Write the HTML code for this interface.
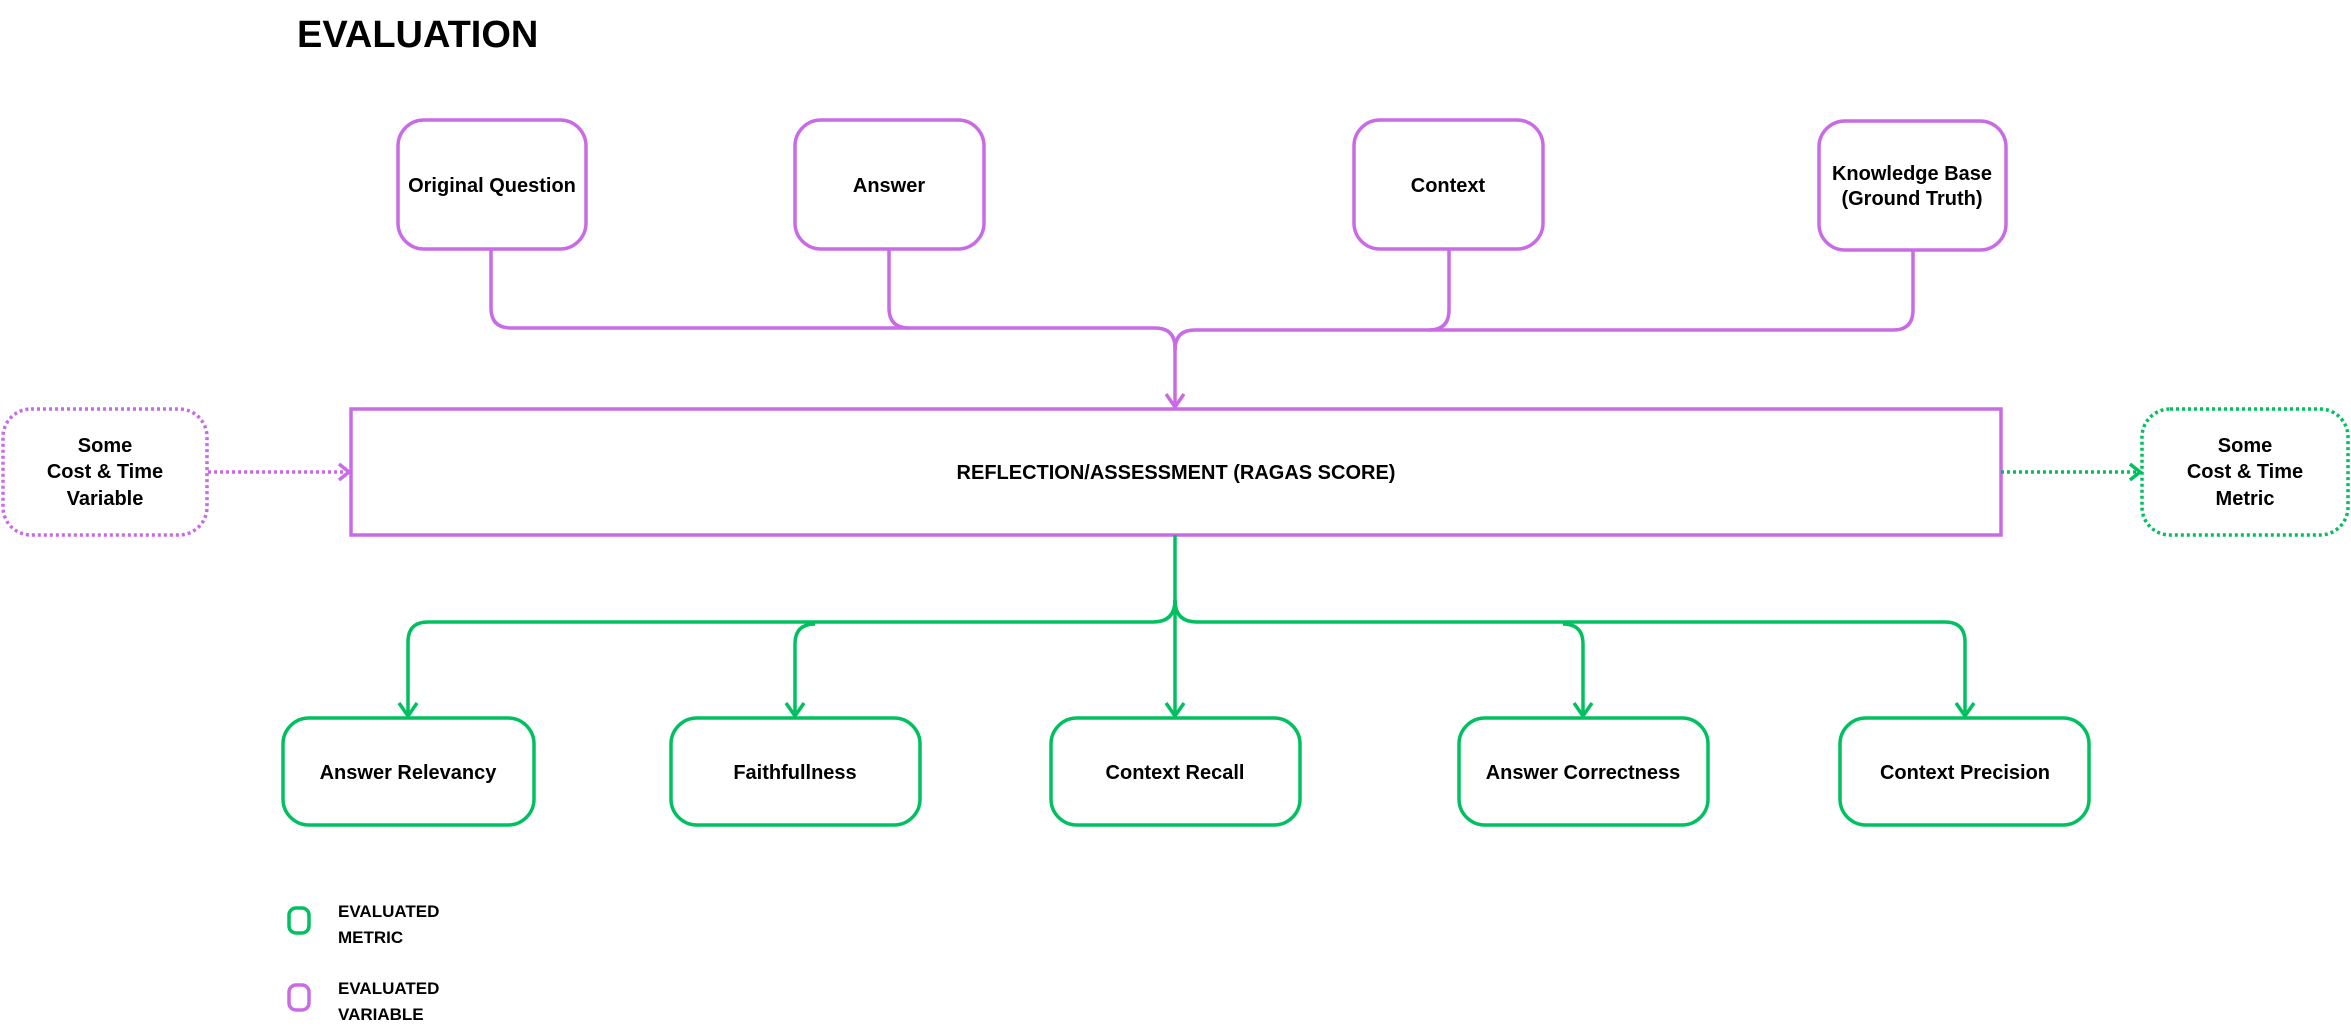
<!DOCTYPE html>
<html><head><meta charset="utf-8"><style>
html,body{margin:0;padding:0;background:#fff;}
svg{display:block;}
text{font-family:"Liberation Sans Narrow","Liberation Sans",sans-serif;font-weight:bold;fill:#000;}
</style></head><body>
<svg width="2351" height="1030" viewBox="0 0 2351 1030" xmlns="http://www.w3.org/2000/svg">
<text x="297" y="47" font-size="38" font-family="Liberation Sans" style="font-family:'Liberation Sans',sans-serif">EVALUATION</text>
<g fill="none" stroke="#c96be6" stroke-width="3.5">
<rect x="398" y="120" width="188" height="129" rx="26"/>
<rect x="795" y="120" width="189" height="129" rx="26"/>
<rect x="1354" y="120" width="189" height="129" rx="26"/>
<rect x="1819" y="121" width="187" height="129" rx="26"/>
<rect x="351" y="409" width="1650" height="126"/>
<rect x="3" y="409" width="204" height="126" rx="28" stroke-dasharray="3 3"/>
<path d="M491,249 V308 Q491,328 511,328 H1155 Q1175,328 1175,348 V406"/>
<path d="M889,249 V308 Q889,328 909,328"/>
<path d="M1449,249 V310 Q1449,330 1429,330 H1195 Q1175,330 1175,350"/>
<path d="M1913,250 V310 Q1913,330 1893,330 H1429"/>
<path d="M1166,394 L1175,407 L1184,394"/>
<path d="M208,472 H349" stroke-dasharray="3 3"/>
<path d="M339,464 L349,472 L339,480"/>
<rect x="289" y="985" width="20" height="25" rx="7"/>
</g>
<g fill="none" stroke="#00c060" stroke-width="3.5">
<rect x="2142" y="409" width="206" height="126" rx="28" stroke-dasharray="3 3"/>
<path d="M2001,472 H2140" stroke-dasharray="3 3"/>
<path d="M2130,464 L2140,472 L2130,480"/>
<rect x="283" y="718" width="251" height="107" rx="26"/>
<rect x="671" y="718" width="249" height="107" rx="26"/>
<rect x="1051" y="718" width="249" height="107" rx="26"/>
<rect x="1459" y="718" width="249" height="107" rx="26"/>
<rect x="1840" y="718" width="249" height="107" rx="26"/>
<path d="M1175,535 V716"/>
<path d="M1175,600 Q1175,622 1153,622 H428 Q408,622 408,642 V716"/>
<path d="M815,624 Q795,624 795,644 V716"/>
<path d="M1175,600 Q1175,622 1197,622 H1945 Q1965,622 1965,642 V716"/>
<path d="M1563,624 Q1583,624 1583,644 V716"/>
<path d="M399,703 L408,716 L417,703"/>
<path d="M786,703 L795,716 L804,703"/>
<path d="M1166,703 L1175,716 L1184,703"/>
<path d="M1574,703 L1583,716 L1592,703"/>
<path d="M1956,703 L1965,716 L1974,703"/>
<rect x="289" y="908" width="20" height="25" rx="7"/>
</g>
<g font-size="20" text-anchor="middle">
<text x="492" y="192">Original Question</text>
<text x="889" y="192">Answer</text>
<text x="1448" y="192">Context</text>
<text x="1912" y="180">Knowledge Base</text>
<text x="1912" y="205">(Ground Truth)</text>
<text x="1176" y="479">REFLECTION/ASSESSMENT (RAGAS SCORE)</text>
<text x="105" y="452">Some</text>
<text x="105" y="478">Cost &amp; Time</text>
<text x="105" y="505">Variable</text>
<text x="2245" y="452">Some</text>
<text x="2245" y="478">Cost &amp; Time</text>
<text x="2245" y="505">Metric</text>
<text x="408" y="779">Answer Relevancy</text>
<text x="795" y="779">Faithfullness</text>
<text x="1175" y="779">Context Recall</text>
<text x="1583" y="779">Answer Correctness</text>
<text x="1965" y="779">Context Precision</text>
</g>
<g font-size="17">
<text x="338" y="917">EVALUATED</text>
<text x="338" y="943">METRIC</text>
<text x="338" y="994">EVALUATED</text>
<text x="338" y="1020">VARIABLE</text>
</g>
</svg>
</body></html>
